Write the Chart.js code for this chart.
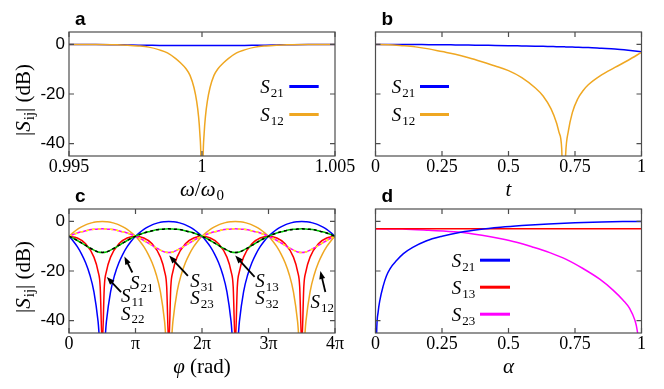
<!DOCTYPE html>
<html lang="en">
<head>
<meta charset="UTF-8">
<title>S-parameters</title>
<script src="https://cdn.jsdelivr.net/npm/chart.js"></script>
<style>
  body { margin:0; background:#fff; width:664px; height:389px; position:relative; overflow:hidden; }
  canvas { position:absolute; }
</style>
</head>
<body>
<canvas id="pa" width="360" height="200" style="left:0;top:0"></canvas>
<canvas id="pb" width="324" height="200" style="left:340px;top:0"></canvas>
<canvas id="pc" width="360" height="209" style="left:0;top:180px"></canvas>
<canvas id="pd" width="324" height="209" style="left:340px;top:180px"></canvas>
<script>
// ---- shared axis values ----
const yMin = -45, yMax = 5;
const yTicks = [-40, -20, 0];
const yLabels = ['-40', '-20', '0'];

// ---- panel a : frequency sweep ----
const xTicksA = [0.995, 1, 1.005];
const xLabelsA = ['0.995', '1', '1.005'];
const omegaA = [0.995, 0.996, 0.9968, 0.9972, 0.9976, 0.998, 0.9984, 0.9987, 0.999, 0.9992, 0.9994, 0.99955,
  0.9997, 0.9998, 0.99987, 0.99992, 0.99996, 1, 1.00004, 1.00008, 1.00013, 1.0002, 1.0003, 1.00045,
  1.0006, 1.0008, 1.001, 1.0013, 1.0016, 1.002, 1.0024, 1.0028, 1.0032, 1.004, 1.005];
const s21A = [0, 0, -0.1, -0.2, -0.3, -0.35, -0.4, -0.4, -0.4, -0.4, -0.4, -0.4, -0.4, -0.4, -0.4, -0.4, -0.4,
  -0.4, -0.4, -0.4, -0.4, -0.4, -0.4, -0.4, -0.4, -0.4, -0.4, -0.4, -0.4, -0.35, -0.3, -0.2, -0.1, 0, 0];
const s12A = [0, 0, -0.1, -0.3, -0.6, -1.1, -2.2, -3.4, -5.6, -7.5, -9.8, -12.5, -17.5, -23, -29, -36, -46,
  -80, -46, -36, -29, -23, -17.5, -12.5, -9.8, -7.5, -5.6, -3.4, -2.2, -1.1, -0.6, -0.3, -0.1, 0, 0];

// ---- panel b : t sweep ----
const xTicksB = [0, 0.25, 0.5, 0.75, 1];
const xLabelsB = ['0', '0.25', '0.5', '0.75', '1'];
const tB = [0, 0.05, 0.1, 0.15, 0.2, 0.25, 0.3, 0.35, 0.4, 0.45, 0.5, 0.55, 0.6, 0.63, 0.66, 0.68, 0.69,
  0.7, 0.707, 0.715, 0.725, 0.74, 0.76, 0.78, 0.8, 0.85, 0.9, 0.95, 1];
const s21B = [0, 0, -0.02, -0.05, -0.1, -0.13, -0.2, -0.27, -0.35, -0.42, -0.5, -0.6, -0.7, -0.77, -0.85, -0.9,
  -0.93, -0.95, -0.97, -1.0, -1.03, -1.08, -1.17, -1.25, -1.3, -1.6, -1.9, -2.4, -3.0];
const s12B = [0, -0.1, -0.5, -1.0, -1.8, -2.9, -4.0, -5.4, -7.0, -8.7, -10.6, -13.4, -17.5, -20.8, -26, -31.5,
  -35.5, -42, -70, -44, -35, -27.5, -22, -18.7, -16.3, -12.3, -9.3, -6.4, -3.2];

// ---- panel c : phase sweep (phi in units of pi) ----
const xTicksC = [0, 1, 2, 3, 4];
const xLabelsC = ['0', 'π', '2π', '3π', '4π'];
const phiC = [0, 0.0625, 0.125, 0.1875, 0.25, 0.3125, 0.375, 0.4375,
  0.5, 0.5625, 0.625, 0.6875, 0.75, 0.8125, 0.875, 0.9375,
  1, 1.0625, 1.125, 1.1875, 1.25, 1.3125, 1.375, 1.4375,
  1.5, 1.5625, 1.625, 1.6875, 1.75, 1.8125, 1.875, 1.9375,
  2, 2.0625, 2.125, 2.1875, 2.25, 2.3125, 2.375, 2.4375,
  2.5, 2.5625, 2.625, 2.6875, 2.75, 2.8125, 2.875, 2.9375,
  3, 3.0625, 3.125, 3.1875, 3.25, 3.3125, 3.375, 3.4375,
  3.5, 3.5625, 3.625, 3.6875, 3.75, 3.8125, 3.875, 3.9375, 4];
const s12C = [-6.0, -4.5, -3.2, -2.2, -1.4, -0.8, -0.3, -0.1,
  0, -0.1, -0.3, -0.8, -1.4, -2.2, -3.2, -4.5,
  -6.0, -7.9, -10.2, -13.1, -16.7, -21.5, -28.4, -40.4,
  -60, -40.4, -28.4, -21.5, -16.7, -13.1, -10.2, -7.9,
  -6.0, -4.5, -3.2, -2.2, -1.4, -0.8, -0.3, -0.1,
  0, -0.1, -0.3, -0.8, -1.4, -2.2, -3.2, -4.5,
  -6.0, -7.9, -10.2, -13.1, -16.7, -21.5, -28.4, -40.4,
  -60, -40.4, -28.4, -21.5, -16.7, -13.1, -10.2, -7.9, -6.0];
const s21C = [-6.0, -7.9, -10.2, -13.1, -16.7, -21.5, -28.4, -40.4,
  -60, -40.4, -28.4, -21.5, -16.7, -13.1, -10.2, -7.9,
  -6.0, -4.5, -3.2, -2.2, -1.4, -0.8, -0.3, -0.1,
  0, -0.1, -0.3, -0.8, -1.4, -2.2, -3.2, -4.5,
  -6.0, -7.9, -10.2, -13.1, -16.7, -21.5, -28.4, -40.4,
  -60, -40.4, -28.4, -21.5, -16.7, -13.1, -10.2, -7.9,
  -6.0, -4.5, -3.2, -2.2, -1.4, -0.8, -0.3, -0.1,
  0, -0.1, -0.3, -0.8, -1.4, -2.2, -3.2, -4.5, -6.0];
const s13C = [-6.0, -6.8, -7.7, -8.7, -9.7, -10.7, -11.6, -12.3,
  -12.5, -12.3, -11.6, -10.7, -9.7, -8.7, -7.7, -6.8,
  -6.0, -5.3, -4.7, -4.2, -3.8, -3.4, -3.2, -3.1,
  -3.0, -3.1, -3.2, -3.4, -3.8, -4.2, -4.7, -5.3,
  -6.0, -6.8, -7.7, -8.7, -9.7, -10.7, -11.6, -12.3,
  -12.5, -12.3, -11.6, -10.7, -9.7, -8.7, -7.7, -6.8,
  -6.0, -5.3, -4.7, -4.2, -3.8, -3.4, -3.2, -3.1,
  -3.0, -3.1, -3.2, -3.4, -3.8, -4.2, -4.7, -5.3, -6.0];
const s23C = [-6.0, -5.3, -4.7, -4.2, -3.8, -3.4, -3.2, -3.1,
  -3.0, -3.1, -3.2, -3.4, -3.8, -4.2, -4.7, -5.3,
  -6.0, -6.8, -7.7, -8.7, -9.7, -10.7, -11.6, -12.3,
  -12.5, -12.3, -11.6, -10.7, -9.7, -8.7, -7.7, -6.8,
  -6.0, -5.3, -4.7, -4.2, -3.8, -3.4, -3.2, -3.1,
  -3.0, -3.1, -3.2, -3.4, -3.8, -4.2, -4.7, -5.3,
  -6.0, -6.8, -7.7, -8.7, -9.7, -10.7, -11.6, -12.3,
  -12.5, -12.3, -11.6, -10.7, -9.7, -8.7, -7.7, -6.8, -6.0];
const phiRed = [0, 0.125, 0.25, 0.375, 0.4375, 0.46875, 0.5, 0.53125, 0.5625, 0.625, 0.75, 0.875,
  1, 1.125, 1.25, 1.375, 1.4375, 1.46875, 1.5, 1.53125, 1.5625, 1.625, 1.75, 1.875,
  2, 2.125, 2.25, 2.375, 2.4375, 2.46875, 2.5, 2.53125, 2.5625, 2.625, 2.75, 2.875,
  3, 3.125, 3.25, 3.375, 3.4375, 3.46875, 3.5, 3.53125, 3.5625, 3.625, 3.75, 3.875, 4];
const s11C = [-6.0, -6.7, -9.0, -14.4, -20.2, -26.2, -50, -26.2, -20.2, -14.4, -9.0, -6.7,
  -6.0, -6.7, -9.0, -14.4, -20.2, -26.2, -50, -26.2, -20.2, -14.4, -9.0, -6.7,
  -6.0, -6.7, -9.0, -14.4, -20.2, -26.2, -50, -26.2, -20.2, -14.4, -9.0, -6.7,
  -6.0, -6.7, -9.0, -14.4, -20.2, -26.2, -50, -26.2, -20.2, -14.4, -9.0, -6.7, -6.0];

// ---- panel d : alpha sweep ----
const xTicksD = [0, 0.25, 0.5, 0.75, 1];
const xLabelsD = ['0', '0.25', '0.5', '0.75', '1'];
const alphaD = [0, 0.004, 0.01, 0.016, 0.029, 0.041, 0.055, 0.08, 0.105, 0.14, 0.19, 0.25, 0.32, 0.39,
  0.47, 0.55, 0.65, 0.75, 0.85, 0.93, 1];
const s21D = [-80, -46, -36.5, -32, -26, -22, -19, -15.7, -13, -10.5, -7.9, -6, -4.4, -3.3,
  -2.4, -1.7, -1.0, -0.5, -0.2, -0.05, 0];
const alphaFlat = [0, 1];
const s13D = [-3, -3];
const alphaM = [0, 0.1, 0.2, 0.31, 0.4, 0.467, 0.53, 0.59, 0.655, 0.717, 0.78, 0.843, 0.893, 0.931,
  0.956, 0.975, 0.984, 0.99, 1];
const s23D = [-3, -3.1, -3.6, -4.3, -5.6, -6.9, -8.4, -10.3, -12.6, -15.3, -19.0, -23.3, -27.7, -31.8,
  -35.2, -39.8, -44, -50, -80];

const BLUE = '#0000ff', ORANGE = '#efa722', RED = '#ff0000', GREEN = '#00c800',
      MAGENTA = '#ff00ff', YELLOW = '#ffff00', FRAME = '#4d4d4d';
const SERIF = '"Liberation Serif"';

// text with italic S and subscript indices
function rich(ctx, x, y, parts, size, align) {
  const sub = Math.round(size * 0.7);
  const font = p => (p[1] === 'i' ? 'italic ' : '') + (p[1] === 's' ? sub : size) + 'px ' + SERIF;
  const gap = p => (p[1] === 's' ? 1 : 0);
  let w = 0;
  parts.forEach(p => { ctx.font = font(p); w += ctx.measureText(p[0]).width + gap(p); });
  let cx = align === 'center' ? x - w / 2 : x;
  ctx.textAlign = 'left';
  ctx.textBaseline = 'alphabetic';
  ctx.fillStyle = '#000';
  parts.forEach(p => {
    ctx.font = font(p);
    cx += gap(p);
    ctx.fillText(p[0], cx, y + (p[1] === 's' ? size * 0.2 : 0));
    cx += ctx.measureText(p[0]).width;
  });
}
const S = n => [['S', 'i'], [n, 's']];

function deco(spec) {
  return {
    id: 'deco',
    afterDraw(chart) {
      const ctx = chart.ctx, a = chart.chartArea;
      const xs = chart.scales.x, ys = chart.scales.y;
      ctx.save();
      // frame with inward ticks
      ctx.strokeStyle = FRAME;
      ctx.lineWidth = 1.2;
      ctx.strokeRect(a.left, a.top, a.right - a.left, a.bottom - a.top);
      ctx.beginPath();
      spec.xt.forEach(v => {
        const p = xs.getPixelForValue(v);
        ctx.moveTo(p, a.bottom); ctx.lineTo(p, a.bottom - 5);
        ctx.moveTo(p, a.top); ctx.lineTo(p, a.top + 5);
      });
      yTicks.forEach(v => {
        const p = ys.getPixelForValue(v);
        ctx.moveTo(a.left, p); ctx.lineTo(a.left + 5, p);
        ctx.moveTo(a.right, p); ctx.lineTo(a.right - 5, p);
      });
      ctx.stroke();

      // panel letter
      ctx.fillStyle = '#000';
      ctx.font = 'bold 19px "Liberation Sans"';
      ctx.textAlign = 'left';
      ctx.textBaseline = 'alphabetic';
      ctx.fillText(spec.letter, a.left + 6, a.top - 7);

      // axis titles
      rich(ctx, (a.left + a.right) / 2, a.bottom + 40, spec.xTitle, 21, 'center');
      if (spec.yTitle) {
        ctx.save();
        ctx.translate(a.left - 39, (a.top + a.bottom) / 2 + 6);
        ctx.rotate(-Math.PI / 2);
        rich(ctx, 0, 0, [['|', 'r'], ['S', 'i'], ['ij', 's'], ['|', 'r'], [' (dB)', 'r']], 21, 'center');
        ctx.restore();
      }

      // legend: label then line sample
      (spec.legend || []).forEach((it, i) => {
        const base = a.top + spec.legPos[1] + i * spec.legStep;
        rich(ctx, a.left + spec.legPos[0], base, S(it[0]), 19);
        ctx.strokeStyle = it[1];
        ctx.lineWidth = 3;
        ctx.beginPath();
        ctx.moveTo(a.left + spec.legLine[0], base - 6.5);
        ctx.lineTo(a.left + spec.legLine[1], base - 6.5);
        ctx.stroke();
      });

      // arrows and labels (placed in data coordinates)
      (spec.arrows || []).forEach(ar => {
        const x1 = xs.getPixelForValue(ar[0]), y1 = ys.getPixelForValue(ar[1]);
        const x2 = xs.getPixelForValue(ar[2]), y2 = ys.getPixelForValue(ar[3]);
        const ang = Math.atan2(y2 - y1, x2 - x1);
        ctx.strokeStyle = '#000';
        ctx.fillStyle = '#000';
        ctx.lineWidth = 1.8;
        ctx.beginPath();
        ctx.moveTo(x1, y1);
        ctx.lineTo(x2 - 5 * Math.cos(ang), y2 - 5 * Math.sin(ang));
        ctx.stroke();
        ctx.beginPath();
        ctx.moveTo(x2, y2);
        ctx.lineTo(x2 - 8 * Math.cos(ang) + 3 * Math.sin(ang), y2 - 8 * Math.sin(ang) - 3 * Math.cos(ang));
        ctx.lineTo(x2 - 8 * Math.cos(ang) - 3 * Math.sin(ang), y2 - 8 * Math.sin(ang) + 3 * Math.cos(ang));
        ctx.closePath();
        ctx.fill();
      });
      (spec.notes || []).forEach(n => {
        rich(ctx, xs.getPixelForValue(n[1]), ys.getPixelForValue(n[2]), S(n[0]), 19);
      });
      ctx.restore();
    }
  };
}

function line(x, y, color, dash) {
  return {
    data: x.map((v, i) => ({ x: v, y: y[i] })),
    borderColor: color,
    borderWidth: 1.5,
    borderDash: dash || [],
    pointRadius: 0,
    fill: false,
    cubicInterpolationMode: 'monotone'
  };
}

function makeChart(id, spec) {
  return new Chart(document.getElementById(id), {
    type: 'line',
    data: { datasets: spec.sets },
    options: {
      responsive: false,
      animation: false,
      devicePixelRatio: 1,
      layout: { padding: { left: 0, top: spec.top, right: spec.right, bottom: 0 } },
      plugins: { legend: { display: false }, tooltip: { enabled: false } },
      scales: {
        x: {
          type: 'linear', min: spec.xMin, max: spec.xMax,
          grid: { display: false, drawTicks: false }, border: { display: false },
          afterBuildTicks: s => { s.ticks = spec.xt.map(v => ({ value: v })); },
          afterFit: s => { s.height = spec.xH; s.paddingLeft = 0; s.paddingRight = 0; },
          ticks: {
            callback: (v, i) => spec.xl[i], padding: 0, maxRotation: 0, autoSkip: false,
            color: '#000', font: { family: SERIF, size: 18 }
          }
        },
        y: {
          type: 'linear', min: yMin, max: yMax,
          grid: { display: false, drawTicks: false }, border: { display: false },
          afterBuildTicks: s => { s.ticks = yTicks.map(v => ({ value: v })); },
          afterFit: s => { s.width = spec.yW; s.paddingTop = 0; s.paddingBottom = 0; },
          ticks: {
            display: spec.yLabels, callback: (v, i) => yLabels[i], padding: 4,
            color: '#000', font: { family: '"Liberation Sans"', size: 17 }
          }
        }
      }
    },
    plugins: [deco(spec)]
  });
}

// first dataset in each list is drawn on top
makeChart('pa', {
  letter: 'a', top: 32, right: 25, xH: 44, yW: 69, yLabels: true, yTitle: true,
  xMin: 0.995, xMax: 1.005, xt: xTicksA, xl: xLabelsA,
  xTitle: [['ω', 'i'], ['/', 'r'], ['ω', 'i'], ['0', 's']],
  legend: [['21', BLUE], ['12', ORANGE]], legPos: [191.3, 61], legStep: 28, legLine: [220.3, 249.7],
  sets: [line(omegaA, s12A, ORANGE), line(omegaA, s21A, BLUE)]
});

makeChart('pb', {
  letter: 'b', top: 32, right: 22.5, xH: 44, yW: 35.5, yLabels: false, yTitle: false,
  xMin: 0, xMax: 1, xt: xTicksB, xl: xLabelsB,
  xTitle: [['t', 'i']],
  legend: [['21', BLUE], ['12', ORANGE]], legPos: [16.2, 61], legStep: 28, legLine: [44.5, 73.5],
  sets: [line(tB, s12B, ORANGE), line(tB, s21B, BLUE)]
});

makeChart('pc', {
  letter: 'c', top: 29, right: 25, xH: 56, yW: 69, yLabels: true, yTitle: true,
  xMin: 0, xMax: 4, xt: xTicksC, xl: xLabelsC,
  xTitle: [['φ', 'i'], [' (rad)', 'r']],
  arrows: [
    [0.953, -20.6, 0.833, -14.2],
    [0.783, -28.5, 0.568, -22.4],
    [1.788, -22.0, 1.506, -13.8],
    [2.791, -22.4, 2.5, -13.8],
    [3.855, -28.5, 3.78, -20.0]
  ],
  notes: [
    ['21', 0.919, -27.1], ['11', 0.783, -32.5], ['22', 0.783, -39.6],
    ['31', 1.822, -26.4], ['23', 1.822, -33.2],
    ['13', 2.801, -26.4], ['32', 2.801, -33.2],
    ['12', 3.63, -35.0]
  ],
  sets: [
    line(phiC, s13C, '#000000', [3, 3]),
    line(phiC, s13C, GREEN),
    line(phiC, s23C, YELLOW, [3, 3]),
    line(phiC, s23C, MAGENTA),
    line(phiRed, s11C, RED),
    line(phiC, s21C, BLUE),
    line(phiC, s12C, ORANGE)
  ]
});

makeChart('pd', {
  letter: 'd', top: 29, right: 22.5, xH: 56, yW: 35.5, yLabels: false, yTitle: false,
  xMin: 0, xMax: 1, xt: xTicksD, xl: xLabelsD,
  xTitle: [['α', 'i']],
  legend: [['21', BLUE], ['13', RED], ['23', MAGENTA]], legPos: [76.2, 57.7], legStep: 27, legLine: [104.5, 134.5],
  sets: [line(alphaD, s21D, BLUE), line(alphaFlat, s13D, RED), line(alphaM, s23D, MAGENTA)]
});
</script>
</body>
</html>
